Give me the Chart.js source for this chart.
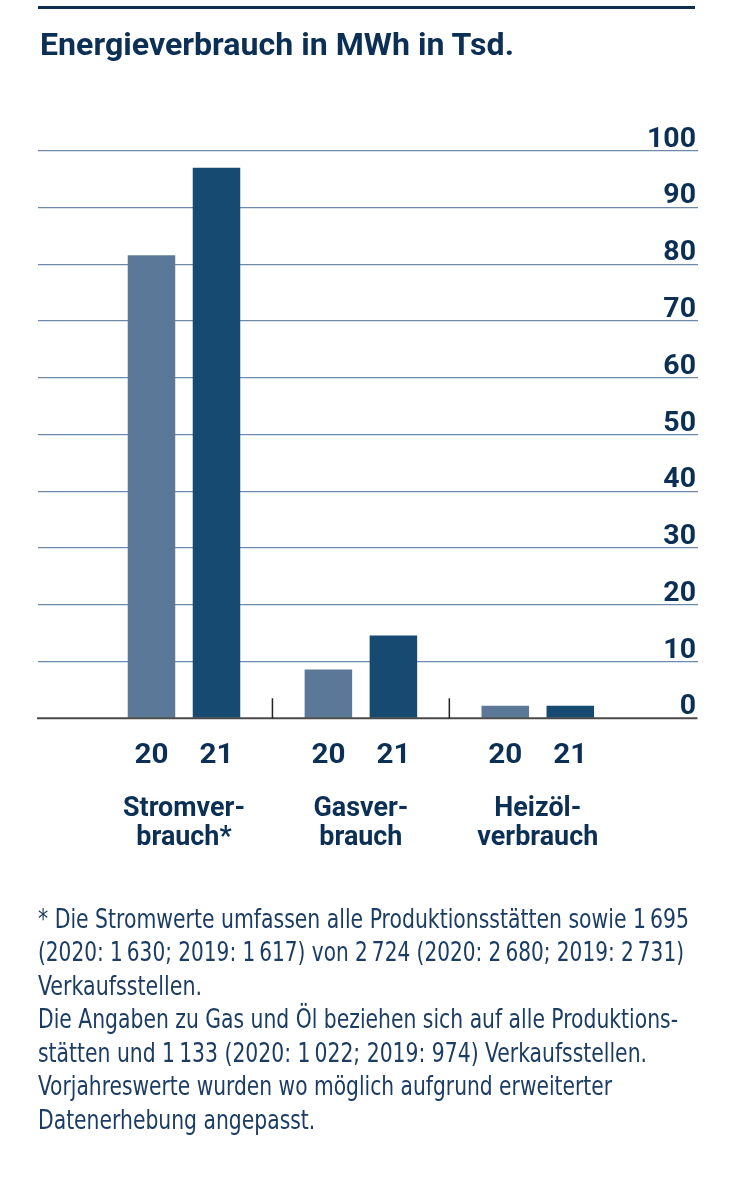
<!DOCTYPE html>
<html lang="de">
<head>
<meta charset="utf-8">
<script src="https://cdn.jsdelivr.net/npm/chart.js@4.4.1/dist/chart.umd.min.js"></script>
<style>
html,body{margin:0;padding:0;background:#fff;width:755px;height:1200px;overflow:hidden;}
#wrap{position:relative;width:755px;height:1200px;}
#chart{position:absolute;left:0;top:0;}
.rule{position:absolute;left:38px;top:5.5px;width:657px;height:3.5px;background:#0f2e50;}
.title{position:absolute;left:40px;top:28.8px;font-family:Roboto,'Liberation Sans',sans-serif;font-weight:700;font-size:31px;line-height:31px;color:#0c2f55;white-space:nowrap;width:max-content;transform-origin:0 0;}
.note{position:absolute;left:38px;top:902px;font-family:'Liberation Sans Narrow','DejaVu Sans Condensed',Roboto,sans-serif;font-size:27.4px;line-height:33.45px;color:#1c3d63;}
.note span{display:block;white-space:nowrap;width:max-content;transform-origin:0 0;}
</style>
</head>
<body>
<div id="wrap">
<canvas id="chart" width="755" height="1200"></canvas>
<div class="rule"></div>
<div class="title" id="title">Energieverbrauch in MWh in Tsd.</div>
<div class="note" id="note">
<span data-w="651">* Die Stromwerte umfassen alle Produktionsstätten sowie 1&#8239;695</span>
<span data-w="646">(2020: 1&#8239;630; 2019: 1&#8239;617) von 2&#8239;724 (2020: 2&#8239;680; 2019: 2&#8239;731)</span>
<span data-w="164">Verkaufsstellen.</span>
<span data-w="640">Die Angaben zu Gas und Öl beziehen sich auf alle Produktions-</span>
<span data-w="609">stätten und 1&#8239;133 (2020: 1&#8239;022; 2019: 974) Verkaufsstellen.</span>
<span data-w="574">Vorjahreswerte wurden wo möglich aufgrund erweiterter</span>
<span>Datenerhebung angepasst.</span>
</div>
</div>
<script>
// ---- data ----
const CATEGORIES = [['Stromver-', 'brauch*'], ['Gasver-', 'brauch'], ['Heizöl-', 'verbrauch']];
const YEARS = ['20', '21'];
const VALUES_2020 = [81.6, 8.6, 2.2];
const VALUES_2021 = [97.0, 14.6, 2.2];
const Y_MIN = 0, Y_MAX = 100, Y_STEP = 10;

// ---- styles ----
const NAVY = '#0c2f55';
const C20 = '#5c7898';
const C21 = '#174a70';
const GRID = '#6e8aaa';
const LABEL_FONT = 'Roboto, "Liberation Sans", sans-serif';

function fitHtml() {
  const t = document.getElementById('title');
  t.style.transform = 'scaleX(' + (474 / t.getBoundingClientRect().width) + ')';
  const spans = Array.from(document.querySelectorAll('#note span'));
  const scales = [];
  spans.forEach(sp => {
    if (sp.dataset.w) scales.push(parseFloat(sp.dataset.w) / sp.getBoundingClientRect().width);
  });
  const mean = scales.reduce((a, b) => a + b, 0) / scales.length;
  spans.forEach(sp => {
    const s = sp.dataset.w ? parseFloat(sp.dataset.w) / sp.getBoundingClientRect().width : mean;
    sp.style.transform = 'scaleX(' + s + ')';
  });
}
fitHtml();

function drawScaled(ctx, text, x, y, sx) {
  ctx.save();
  ctx.translate(x, y);
  ctx.scale(sx, 1);
  ctx.fillText(text, 0, 0);
  ctx.restore();
}

const toPoints = arr => arr.map((v, i) => ({ x: i + 1, y: v }));

const decorPlugin = {
  id: 'decor',
  afterDatasetsDraw(chart) {
    const ctx = chart.ctx, y = chart.scales.y, x = chart.scales.x, area = chart.chartArea;
    const zero = y.getPixelForValue(0);
    ctx.save();
    // zero line
    ctx.strokeStyle = '#4a4a4a';
    ctx.lineWidth = 2;
    ctx.beginPath();
    ctx.moveTo(area.left - 1, zero);
    ctx.lineTo(area.right, zero);
    ctx.stroke();
    // group separators
    ctx.strokeStyle = '#222';
    ctx.lineWidth = 1.5;
    for (let k = 1; k < CATEGORIES.length; k++) {
      const px = x.getPixelForValue(k + 0.5);
      ctx.beginPath();
      ctx.moveTo(px, zero);
      ctx.lineTo(px, zero - 20);
      ctx.stroke();
    }
    ctx.fillStyle = NAVY;
    ctx.textBaseline = 'alphabetic';
    // y tick labels
    ctx.font = '700 27px ' + LABEL_FONT;
    ctx.textAlign = 'right';
    const sxY = 49 / ctx.measureText('100').width;
    y.ticks.forEach(t => {
      const py = y.getPixelForValue(t.value);
      drawScaled(ctx, String(t.value), area.right - 1.5, py - 4, sxY);
    });
    // year labels under bars
    ctx.textAlign = 'center';
    ctx.font = '700 28px ' + LABEL_FONT;
    const sxYr = 34 / ctx.measureText('20').width;
    chart.data.datasets.forEach((ds, i) => {
      chart.getDatasetMeta(i).data.forEach(bar => {
        drawScaled(ctx, YEARS[i], bar.x, zero + 45, sxYr);
      });
    });
    // category labels
    ctx.font = '700 27px ' + LABEL_FONT;
    const sxC = 122 / ctx.measureText('Stromver-').width;
    CATEGORIES.forEach((lines, i) => {
      const px = x.getPixelForValue(i + 1);
      lines.forEach((ln, j) => drawScaled(ctx, ln, px, zero + 97.7 + j * 29, sxC));
    });
    ctx.restore();
  }
};

new Chart(document.getElementById('chart'), {
  type: 'bar',
  data: {
    datasets: [
      { label: '20' + YEARS[0], data: toPoints(VALUES_2020), backgroundColor: C20, borderWidth: 0 },
      { label: '20' + YEARS[1], data: toPoints(VALUES_2021), backgroundColor: C21, borderWidth: 0 }
    ]
  },
  options: {
    responsive: false,
    animation: false,
    devicePixelRatio: 1,
    categoryPercentage: 0.735,
    barPercentage: 0.731,
    layout: { padding: { left: 38, right: 57.5, top: 150.7, bottom: 481.7 } },
    plugins: { legend: { display: false }, tooltip: { enabled: false }, title: { display: false } },
    scales: {
      x: {
        type: 'linear',
        display: false,
        offset: false,
        min: 0.1747,
        max: 3.9029,
        ticks: { stepSize: 1, includeBounds: false },
        grid: { offset: false }
      },
      y: {
        position: 'right',
        min: Y_MIN,
        max: Y_MAX,
        ticks: { display: false, stepSize: Y_STEP },
        border: { display: false },
        grid: {
          drawTicks: false,
          color: c => (c.tick && c.tick.value === 0) ? 'rgba(0,0,0,0)' : GRID,
          lineWidth: 1.2
        },
        afterFit: s => { s.width = 0; }
      }
    }
  },
  plugins: [decorPlugin]
});
</script>
</body>
</html>
